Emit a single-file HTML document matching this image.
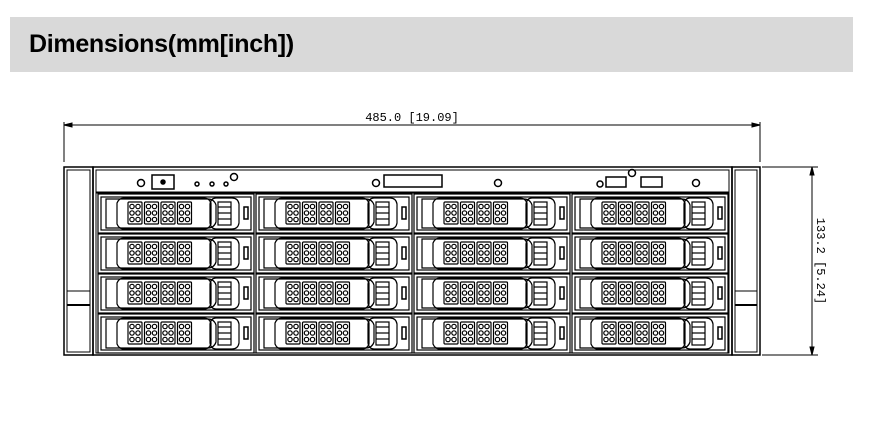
<!DOCTYPE html>
<html><head><meta charset="utf-8"><style>
body{margin:0;background:#fff;width:869px;height:421px;overflow:hidden;position:relative}
.hdr{position:absolute;left:10px;top:17px;width:843px;height:55px;background:#d9d9d9}
.hdr span{position:absolute;left:19px;top:13px;font:bold 25px "Liberation Sans",sans-serif;color:#000;letter-spacing:-0.3px}
svg{position:absolute;left:0;top:0}
</style></head><body>
<div class="hdr"><span>Dimensions(mm[inch])</span></div>
<svg width="869" height="421" viewBox="0 0 869 421">
<defs>
<g id="grid" fill="none" stroke="#000" stroke-width="1.2">
<rect x="0" y="0" width="14" height="22" rx="1"/>
<circle cx="4" cy="4.5" r="2.2"/><circle cx="10" cy="4.5" r="2.2"/>
<circle cx="4" cy="11" r="2.2"/><circle cx="10" cy="11" r="2.2"/>
<circle cx="4" cy="17.5" r="2.2"/><circle cx="10" cy="17.5" r="2.2"/>
</g>
<g id="bay" fill="none" stroke="#000" stroke-width="1.2">
<rect x="0" y="0" width="156" height="39"/>
<rect x="3" y="3" width="150" height="33"/>
<path d="M8 5 h102 q6 0 8 6 v17 q-2 6 -8 6 h-102 z"/>
<path d="M26 4 h80 q5 0 7 5 v21 q-2 5 -7 5 h-80 q-5 0 -7 -5 v-21 q2 -5 7 -5 z"/>
<use href="#grid" x="30" y="8"/><use href="#grid" x="46.5" y="8"/><use href="#grid" x="63" y="8"/><use href="#grid" x="79.5" y="8"/>
<path d="M118 4 h16 q6 0 7 6 v19 q-1 6 -7 6 h-16 q-5 0 -6 -6 v-19 q1 -6 6 -6 z"/>
<rect x="120" y="8" width="13" height="23"/>
<line x1="120" y1="13" x2="133" y2="13"/><line x1="120" y1="19" x2="133" y2="19"/><line x1="120" y1="25" x2="133" y2="25"/>
<rect x="146" y="13" width="4" height="12" stroke-width="1.5"/>
</g>
<g id="col"><use href="#bay" y="0"/><use href="#bay" y="40"/><use href="#bay" y="80"/><use href="#bay" y="120"/></g>
</defs>
<g stroke="#000" fill="none" stroke-width="1">
<line x1="64" y1="122" x2="64" y2="162"/><line x1="760" y1="122" x2="760" y2="162"/>
<line x1="64" y1="125" x2="760" y2="125"/>
<path d="M64 125 l8 -2 v4 z M760 125 l-8 -2 v4 z" fill="#000"/>
<line x1="762" y1="167" x2="818" y2="167"/><line x1="762" y1="355" x2="818" y2="355"/>
<line x1="812" y1="167" x2="812" y2="355"/>
<path d="M812 167 l-2 8 h4 z M812 355 l-2 -8 h4 z" fill="#000"/>
</g>
<text x="412" y="121" font-family="Liberation Mono,monospace" font-size="12" text-anchor="middle">485.0 [19.09]</text>
<text transform="translate(817,261) rotate(90)" font-family="Liberation Mono,monospace" font-size="12" text-anchor="middle">133.2 [5.24]</text>
<g stroke="#000" fill="none" stroke-width="1.5">
<rect x="64" y="167" width="29" height="188"/>
<rect x="67" y="170" width="23" height="182" stroke-width="1"/>
<rect x="67" y="291" width="23" height="61" stroke-width="1"/>
<line x1="67" y1="305" x2="90" y2="305" stroke-width="2"/>
<rect x="732" y="167" width="28" height="188"/>
<rect x="735" y="170" width="22" height="182" stroke-width="1"/>
<rect x="735" y="291" width="22" height="61" stroke-width="1"/>
<line x1="735" y1="305" x2="757" y2="305" stroke-width="2"/>
<rect x="93" y="167" width="639" height="188"/>
<rect x="96" y="170" width="633" height="22" stroke-width="1"/>
<rect x="96" y="193" width="633" height="160" stroke-width="1"/>
<circle cx="141" cy="183" r="3.5"/>
<rect x="152" y="175" width="22" height="14"/><circle cx="163" cy="182" r="2" fill="#000"/>
<circle cx="197" cy="184" r="2"/><circle cx="212" cy="184" r="2"/><circle cx="226" cy="184" r="2"/><circle cx="234" cy="177" r="3.5"/>
<circle cx="376" cy="183" r="3.5"/><rect x="384" y="175" width="58" height="12"/><circle cx="498" cy="183" r="3.5"/>
<circle cx="600" cy="184" r="3"/><rect x="606" y="177" width="20" height="10"/><circle cx="632" cy="173" r="3.5"/><rect x="641" y="177" width="21" height="10"/>
<circle cx="696" cy="183" r="3.5"/>
</g>
<use href="#col" x="98" y="194"/>
<use href="#col" x="256" y="194"/>
<use href="#col" x="414" y="194"/>
<use href="#col" x="572" y="194"/>
</svg>
</body></html>
